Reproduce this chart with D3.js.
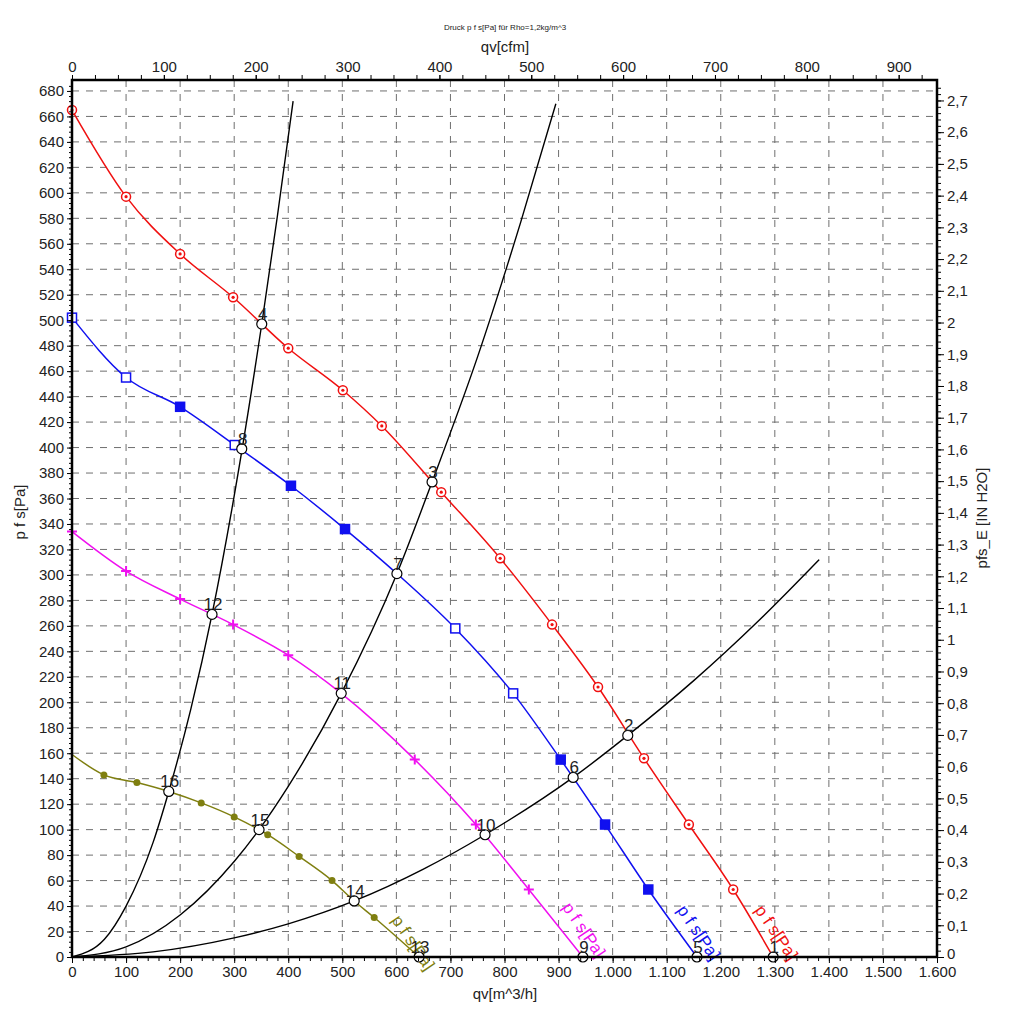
<!DOCTYPE html>
<html>
<head>
<meta charset="utf-8">
<script src="https://cdn.jsdelivr.net/npm/d3@7"></script>
<style>
  body { margin: 0; background: #fff; }
  text { font-family: "Liberation Sans", Arial, sans-serif; fill: #222; }
</style>
</head>
<body>
<svg id="chart" width="1015" height="1024"></svg>
<script>
// fan curves: volume flow qv [m^3/h] and static pressure p f s [Pa]
const redQ = [0, 100, 200, 298, 400, 501, 573, 683, 792, 888, 973, 1058, 1141, 1223, 1297]
const redP = [665, 597, 552, 518, 478, 445, 417, 365, 313, 261, 212, 156, 104, 53, 0]
const redMarks = [0, 100, 200, 298, 400, 501, 573, 683, 792, 888, 973, 1058, 1141, 1223]

const blueQ = [0, 100, 200, 301, 405, 505, 601, 709, 816, 904, 986, 1066, 1156]
const blueP = [502, 455, 432, 402, 370, 336, 301, 258, 207, 155, 104, 53, 0]
const blueMarks = [0, 100, 200, 301, 405, 505, 709, 816, 904, 986, 1066]
const blueFilled = [false, false, true, false, true, true, false, false, true, true, true]

const magQ = [0, 100, 200, 298, 400, 498, 634, 747, 845, 945]
const magP = [334, 303, 281, 261, 237, 207, 155, 104, 53, 0]
const magMarks = [0, 100, 200, 298, 400, 634, 747, 845]

const oliveQ = [0, 59, 120, 179, 239, 300, 362, 420, 481, 522, 559, 642]
const oliveP = [159, 143, 137, 130, 121, 110, 96, 79, 60, 44, 31, 0]
const oliveMarks = [59, 120, 239, 300, 362, 420, 481, 559]

// system curves (black)
const sysAQ = [0, 60, 100, 150, 179, 220, 259, 300, 351, 380, 409]
const sysAP = [0, 14, 40, 90, 130, 195, 269, 362, 497, 582, 672]
const sysBQ = [0, 100, 200, 300, 346, 400, 498, 601, 666, 750, 830, 895]
const sysBP = [0, 8, 33, 75, 100, 134, 207, 301, 373, 471, 577, 670]
const sysCQ = [0, 150, 300, 400, 522, 650, 764, 927, 1028, 1150, 1270, 1382]
const sysCP = [0, 4, 15, 26, 44, 69, 96, 141, 174, 217, 264, 312]

// operating points
const opNames = ['1', '2', '3', '4', '5', '6', '7', '8', '9', '10', '11', '12', '13', '14', '15', '16']
const opQ = [1297, 1028, 666, 351, 1156, 927, 601, 314, 945, 764, 498, 259, 642, 522, 346, 179]
const opP = [0, 174, 373, 497, 0, 141, 301, 399, 0, 96, 207, 269, 0, 44, 100, 130]

// tick labels
const xTicks = d3.range(0, 1601, 100)
const cfmTicks = d3.range(0, 901, 100)
const yTicks = d3.range(0, 681, 20)
const inTicks = d3.range(0, 2.71, 0.1)

const margin = { top: 80, right: 78, bottom: 67, left: 72 }
const width = 1015 - margin.left - margin.right
const height = 1024 - margin.top - margin.bottom

const yMax = 688.6
const x = d3.scaleLinear().domain([0, 1600]).range([0, width])
const xCfm = d3.scaleLinear().domain([0, 1600 / 1.699]).range([0, width])
const y = d3.scaleLinear().domain([0, yMax]).range([height, 0])
const yIn = d3.scaleLinear().domain([0, yMax / 249.089]).range([height, 0])

const deFmt = v => d3.format(',')(v).replace(/,/g, '.')
const inFmt = v => (Math.round(v * 10) / 10).toString().replace('.', ',')

const svg = d3.select('#chart')
const g = svg.append('g').attr('transform', `translate(${margin.left},${margin.top})`)

// grid
g.append('g').selectAll('line').data(xTicks.slice(1, -1)).enter().append('line')
  .attr('x1', d => x(d)).attr('x2', d => x(d)).attr('y1', 0).attr('y2', height)
  .attr('stroke', '#6f6f6f').attr('stroke-dasharray', '7,7')
g.append('g').selectAll('line').data(yTicks.slice(1)).enter().append('line')
  .attr('x1', 0).attr('x2', width).attr('y1', d => y(d)).attr('y2', d => y(d))
  .attr('stroke', '#6f6f6f').attr('stroke-dasharray', '7,7')

const line = d3.line().x(d => x(d[0])).y(d => y(d[1])).curve(d3.curveMonotoneX)
const zip = (a, b) => a.map((v, i) => [v, b[i]])

// system curves
;[[sysAQ, sysAP], [sysBQ, sysBP], [sysCQ, sysCP]].forEach(s => {
  g.append('path').attr('d', line(zip(s[0], s[1])))
    .attr('fill', 'none').attr('stroke', '#000').attr('stroke-width', 1.4)
})

// fan curves
const series = [
  { q: redQ, p: redP, color: '#f01010' },
  { q: blueQ, p: blueP, color: '#1010f0' },
  { q: magQ, p: magP, color: '#f010f0' },
  { q: oliveQ, p: oliveP, color: '#7f7f10' }
]
series.forEach(s => {
  g.append('path').attr('d', line(zip(s.q, s.p)))
    .attr('fill', 'none').attr('stroke', s.color).attr('stroke-width', 1.5)
})

const pAt = (s, q) => s.p[s.q.indexOf(q)]

// red markers: ring with dot
redMarks.forEach(q => {
  const cx = x(q), cy = y(pAt(series[0], q))
  g.append('circle').attr('cx', cx).attr('cy', cy).attr('r', 4.5)
    .attr('fill', '#fff').attr('stroke', '#f01010').attr('stroke-width', 1.5)
  g.append('circle').attr('cx', cx).attr('cy', cy).attr('r', 1.6).attr('fill', '#f01010')
})

// blue markers: squares
blueMarks.forEach((q, i) => {
  const cx = x(q), cy = y(pAt(series[1], q))
  g.append('rect').attr('x', cx - 4.5).attr('y', cy - 4.5).attr('width', 9).attr('height', 9)
    .attr('fill', blueFilled[i] ? '#1010f0' : '#fff').attr('stroke', '#1010f0').attr('stroke-width', 1.5)
})

// magenta markers: plus
magMarks.forEach(q => {
  const cx = x(q), cy = y(pAt(series[2], q))
  g.append('path').attr('d', `M${cx - 5},${cy}H${cx + 5}M${cx},${cy - 5}V${cy + 5}`)
    .attr('stroke', '#f010f0').attr('stroke-width', 2)
})

// olive markers: dots
oliveMarks.forEach(q => {
  g.append('circle').attr('cx', x(q)).attr('cy', y(pAt(series[3], q))).attr('r', 3.5)
    .attr('fill', '#7f7f10')
})

// curve labels
const curveLabels = [
  { q: 1262, p: 37, color: '#f01010' },
  { q: 1118, p: 37, color: '#1010f0' },
  { q: 906, p: 39, color: '#f010f0' },
  { q: 590, p: 29, color: '#7f7f10' }
]
curveLabels.forEach(c => {
  g.append('text').attr('transform', `translate(${x(c.q)},${y(c.p)}) rotate(56)`)
    .style('font-size', '17px').style('fill', c.color).text('p f s[Pa]')
})

// operating points
opQ.forEach((q, i) => {
  const cx = x(q), cy = y(opP[i])
  g.append('circle').attr('cx', cx).attr('cy', cy).attr('r', 5)
    .attr('fill', '#fff').attr('stroke', '#000').attr('stroke-width', 1.2)
  g.append('text').attr('x', cx + 1).attr('y', cy - 4).attr('text-anchor', 'middle')
    .style('font-size', '17px').text(opNames[i])
})

// axes
const axBottom = g.append('g').attr('transform', `translate(0,${height})`)
axBottom.call(d3.axisBottom(x).tickValues(d3.range(0, 1601, 20)).tickSize(4).tickFormat(''))
axBottom.append('g').call(d3.axisBottom(x).tickValues(xTicks).tickSize(6).tickFormat(deFmt))

const axTop = g.append('g')
axTop.call(d3.axisTop(xCfm).tickValues(d3.range(0, 941, 25)).tickSize(5).tickFormat(''))
axTop.append('g').call(d3.axisTop(xCfm).tickValues(cfmTicks).tickSize(5))

const axLeft = g.append('g')
axLeft.call(d3.axisLeft(y).tickValues(d3.range(0, 688, 4)).tickSize(3).tickFormat(''))
axLeft.append('g').call(d3.axisLeft(y).tickValues(yTicks).tickSize(5))

const axRight = g.append('g').attr('transform', `translate(${width},0)`)
axRight.call(d3.axisRight(yIn).tickValues(d3.range(0, 2.76, 0.02)).tickSize(4).tickFormat(''))
axRight.append('g').call(d3.axisRight(yIn).tickValues(inTicks).tickSize(7).tickFormat(inFmt))

g.selectAll('.tick text').style('font-size', '15px').style('fill', '#222')
g.selectAll('.tick line').attr('stroke', '#000')
g.selectAll('.domain').remove()
// keep the right "0" clear of the "1.600" label below it
axRight.selectAll('.tick text').filter(d => d === 0).attr('dy', '0.1em')

// frame
g.append('rect').attr('width', width).attr('height', height)
  .attr('fill', 'none').attr('stroke', '#000').attr('stroke-width', 2.5)

// titles
svg.append('text').attr('x', 505).attr('y', 30).attr('text-anchor', 'middle')
  .style('font-size', '8px').text('Druck p f s[Pa] für Rho=1,2kg/m^3')
svg.append('text').attr('x', 505).attr('y', 52).attr('text-anchor', 'middle')
  .style('font-size', '15px').text('qv[cfm]')
svg.append('text').attr('x', 505).attr('y', 999).attr('text-anchor', 'middle')
  .style('font-size', '15px').text('qv[m^3/h]')
svg.append('text').attr('transform', 'translate(25,512) rotate(-90)').attr('text-anchor', 'middle')
  .style('font-size', '15px').text('p f s[Pa]')
svg.append('text').attr('transform', 'translate(987,518) rotate(-90)').attr('text-anchor', 'middle')
  .style('font-size', '15px').text('pfs_E [IN H2O]')
</script>
</body>
</html>
